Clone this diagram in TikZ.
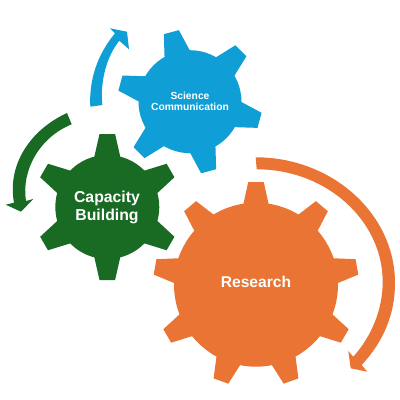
\documentclass[tikz,border=0pt]{standalone}
\usepackage{fontspec}
\setmainfont{Liberation Sans}
\definecolor{gorange}{HTML}{EA7433}
\definecolor{gblue}{HTML}{0F9ED5}
\definecolor{ggreen}{HTML}{196B24}
\tikzset{gearlabel/.style={text=white,align=center,inner sep=0pt}}
% cx, cy, body radius, tip radius, base half width, base radius, first angle, second angle, colour
\newcommand{\gearshape}[9]{%
  \fill[#9] (#1,#2) circle[radius=#3pt];
  \foreach \ang in {#7,#8,...,\numexpr#7+359\relax}{%
    \begin{scope}[shift={(#1,#2)},rotate=\ang]
      \fill[#9] (#6,-#5) -- (#4,-7.8) -- (#4,7.8) -- (#6,#5) -- cycle;
    \end{scope}
  }%
}
\begin{document}
\begin{tikzpicture}[x=1pt,y=-1pt]
\useasboundingbox (0,0) rectangle (400,400);
\fill[white] (0,0) rectangle (400,400);
\gearshape{256}{284.7}{82}{102.5}{15}{70}{90}{130}{gorange}
\gearshape{107.3}{207}{52}{73}{15.3}{40}{30}{90}{ggreen}
\gearshape{190}{101.7}{51.5}{72}{15.3}{40}{45}{105}{gblue}
% arrows
\fill[gblue] (90.3,106.7) .. controls (89,80) and (97,55) .. (115,33.3) -- (110,28.3) -- (127,31.7) -- (129,49.3) -- (119.3,40.7) .. controls (107,56) and (100,80) .. (102.3,105) -- cycle;
\fill[ggreen] (67,113) .. controls (30,130) and (7,165) .. (14,202.7) -- (5.7,204.7) -- (21,211.7) -- (33.3,199) -- (26,201) .. controls (21,170) and (40,137) .. (71.7,124.3) -- cycle;
\fill[gorange] (255.7,157.3) .. controls (332,157.3) and (395,213.7) .. (395,283) .. controls (395,315) and (383,342) .. (361.7,365) -- (367.3,371.7) -- (350.7,368.3) -- (348.3,351) -- (353.3,356.7) .. controls (371,337) and (382.7,310) .. (382.7,282) .. controls (382.7,220) and (326,169.3) .. (256.7,169.3) -- cycle;
% labels
\node[gearlabel,font=\fontsize{10.3}{11.3}\selectfont\bfseries] (sci) at (190,101.5) {Science\\Communication};
\node[gearlabel,font=\fontsize{15.8}{18}\selectfont\bfseries] (cap) at (107,207) {Capacity\\Building};
\node[gearlabel,font=\fontsize{15.6}{18}\selectfont\bfseries] (res) at (256,282) {Research};
\end{tikzpicture}
\end{document}
